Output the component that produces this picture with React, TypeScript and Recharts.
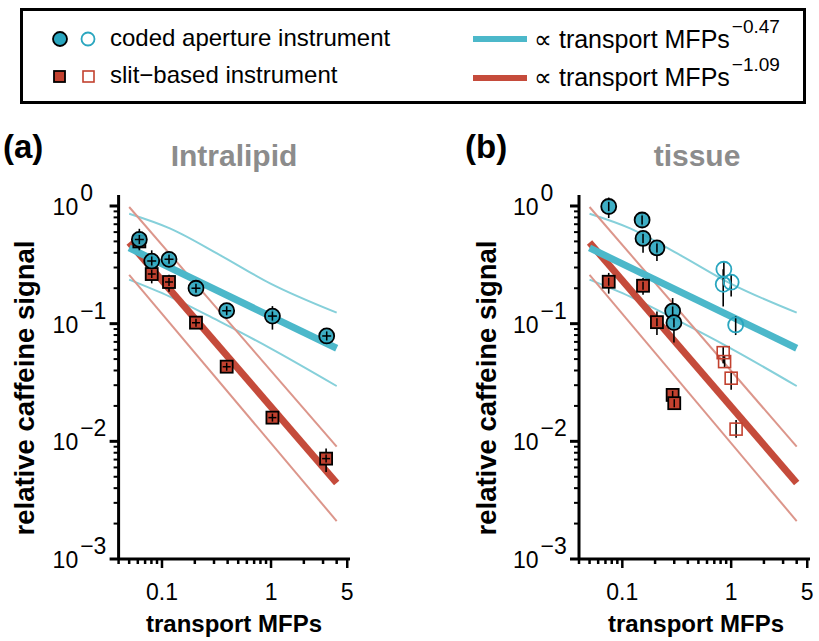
import React from 'react';
import { ComposedChart, Scatter, Line, XAxis, YAxis, ErrorBar } from 'recharts';

const FONT = '"Liberation Sans", Arial, Helvetica, sans-serif';
const CYAN = '#2aa6bf';
const CYAN_LINE = '#4cb8ca';
const CYAN_THIN = '#86d0da';
const RED = '#c2412f';
const RED_LINE = '#c54b3b';
const RED_THIN = '#dc968b';

// axes
const X_DOMAIN = [0.04, 5.3];
const Y_DOMAIN = [0.001, 1.24];
const xTicks = [0.04, 0.05, 0.06, 0.07, 0.08, 0.09, 0.1, 0.2, 0.3, 0.4, 0.5, 0.6, 0.7, 0.8, 0.9, 1, 2, 3, 4, 5];
const xTickLabels = ['0.1', '1', '5'];
const yTicks = [
  0.001, 0.002, 0.003, 0.004, 0.005, 0.006, 0.007, 0.008, 0.009,
  0.01, 0.02, 0.03, 0.04, 0.05, 0.06, 0.07, 0.08, 0.09,
  0.1, 0.2, 0.3, 0.4, 0.5, 0.6, 0.7, 0.8, 0.9, 1,
];
const yMajor = [0.001, 0.01, 0.1, 1];

// fits (same in both panels)
const fitX = [0.05, 4.0];
const codedFitY = [0.44, 0.0618];
const slitFitY = [0.49, 0.00443];
const bandX = [0.05, 0.118, 0.34, 0.98, 4.0];
const codedUpperY = [0.86, 0.646, 0.383, 0.22, 0.124];
const codedLowerY = [0.237, 0.17, 0.104, 0.062, 0.0295];
const slitBandX = [0.05, 4.0];
const slitUpperY = [0.98, 0.009];
const slitLowerY = [0.26, 0.0021];

// (a) Intralipid
const aCodedX = [0.062, 0.0805, 0.116, 0.205, 0.392, 1.03, 3.24];
const aCodedY = [0.52, 0.34, 0.352, 0.2, 0.129, 0.116, 0.0786];
const aCodedLo = [0.42, 0.27, 0.32, 0.185, 0.12, 0.089, 0.072];
const aCodedHi = [0.64, 0.42, 0.39, 0.215, 0.14, 0.141, 0.086];
const aSlitX = [0.062, 0.0805, 0.116, 0.205, 0.392, 1.03, 3.2];
const aSlitY = [0.5, 0.264, 0.226, 0.102, 0.0431, 0.0159, 0.00713];
const aSlitLo = [0.43, 0.22, 0.187, 0.094, 0.04, 0.0148, 0.0055];
const aSlitHi = [0.6, 0.3, 0.26, 0.11, 0.047, 0.0172, 0.0087];

// (b) tissue
const bCodedX = [0.075, 0.152, 0.155, 0.208, 0.29, 0.298];
const bCodedY = [0.99, 0.76, 0.53, 0.44, 0.128, 0.102];
const bCodedLo = [0.79, 0.67, 0.4, 0.34, 0.107, 0.069];
const bCodedHi = [1.18, 0.87, 0.62, 0.51, 0.165, 0.115];
const bCodedOpenX = [0.857, 0.845, 1.0, 1.1];
const bCodedOpenY = [0.29, 0.216, 0.225, 0.0975];
const bCodedOpenLo = [0.206, 0.14, 0.17, 0.08];
const bCodedOpenHi = [0.337, 0.29, 0.26, 0.116];
const bSlitX = [0.075, 0.155, 0.208, 0.29, 0.3];
const bSlitY = [0.227, 0.21, 0.103, 0.0248, 0.0211];
const bSlitLo = [0.18, 0.176, 0.08, 0.023, 0.0195];
const bSlitHi = [0.27, 0.244, 0.127, 0.027, 0.0228];
const bSlitOpenX = [0.845, 0.87, 1.0, 1.11];
const bSlitOpenY = [0.0567, 0.0476, 0.0344, 0.0127];
const bSlitOpenLo = [0.046, 0.042, 0.0275, 0.0107];
const bSlitOpenHi = [0.064, 0.053, 0.039, 0.0152];

const xErrFrac = 0.07;

function pts(xs: number[], ys: number[], lo?: number[], hi?: number[], xe = 0) {
  return xs.map((x, i) => ({
    x,
    y: ys[i],
    ey: lo && hi ? [ys[i] - lo[i], hi[i] - ys[i]] : 0,
    ex: [x * xe, x * xe],
  }));
}

function XTick(props: any) {
  const { x, y, payload } = props;
  const v = payload.value;
  const lbl = xTickLabels.find((t) => Number(t) === v);
  const major = v === 0.1 || v === 1;
  return (
    <g>
      <line x1={x} x2={x} y1={y} y2={y + (major || lbl ? 9 : 5)} stroke="#000" strokeWidth={2.5} />
      {lbl && (
        <text x={x} y={y + 41} textAnchor="middle" fontSize={23} fontFamily={FONT} fill="#000">
          {lbl}
        </text>
      )}
    </g>
  );
}

function YTick(props: any) {
  const { x, y, payload } = props;
  const v = payload.value;
  const major = yMajor.includes(v);
  const exp = Math.round(Math.log10(v));
  return (
    <g>
      <line x1={x} x2={x - (major ? 9 : 5)} y1={y} y2={y} stroke="#000" strokeWidth={major ? 3 : 2} />
      {major && (
        <text x={x - 66} y={y + 9} fontSize={23} fontFamily={FONT} fill="#000">
          10
          <tspan dx={2} dy={-14}>{exp === 0 ? '0' : `\u2212${-exp}`}</tspan>
        </text>
      )}
    </g>
  );
}

// the small cross drawn inside filled markers, where the error bars run through them
const cross = (cx: number, cy: number, h: number, w: number) => (
  <g stroke="#000" strokeWidth={1.5}>
    <line x1={cx} x2={cx} y1={cy - h} y2={cy + h} />
    {w > 0 && <line x1={cx - w} x2={cx + w} y1={cy} y2={cy} />}
  </g>
);

const makeFilledCircle = (w: number) => (p: any) => (
  <g>
    <circle cx={p.cx} cy={p.cy} r={7.5} fill={CYAN} fillOpacity={0.9} stroke="#000" strokeWidth={1.8} />
    {cross(p.cx, p.cy, 4.5, w)}
  </g>
);
const openCircle = (p: any) => (
  <circle cx={p.cx} cy={p.cy} r={7.5} fill="none" stroke={CYAN} strokeWidth={1.8} />
);
const makeFilledSquare = (w: number) => (p: any) => (
  <g>
    <rect x={p.cx - 6} y={p.cy - 6} width={12} height={12} fill={RED} stroke="#000" strokeWidth={1.8} />
    {cross(p.cx, p.cy, 4, w)}
  </g>
);
const openSquare = (p: any) => (
  <rect x={p.cx - 6} y={p.cy - 6} width={12} height={12} fill="none" stroke={RED} strokeWidth={1.6} />
);

type Group = { data: any[]; shape: (p: any) => React.ReactElement };

function Panel({ width, left, right, groups }: { width: number; left: number; right: number; groups: Group[] }) {
  return (
    <ComposedChart width={width} height={641} margin={{ top: 195, right, bottom: 52, left }}>
      <XAxis
        type="number"
        dataKey="x"
        scale="log"
        domain={X_DOMAIN}
        allowDataOverflow
        ticks={xTicks}
        interval={0}
        tick={<XTick />}
        tickSize={0}
        tickMargin={0}
        tickLine={false}
        axisLine={{ stroke: '#000', strokeWidth: 3 }}
        height={30}
      />
      <YAxis
        type="number"
        dataKey="y"
        scale="log"
        domain={Y_DOMAIN}
        allowDataOverflow
        ticks={yTicks}
        interval={0}
        tick={<YTick />}
        tickSize={0}
        tickMargin={0}
        tickLine={false}
        axisLine={{ stroke: '#000', strokeWidth: 3 }}
        width={60}
      />
      <Line type="monotone" data={pts(bandX, codedUpperY)} dataKey="y" stroke={CYAN_THIN} strokeWidth={2} dot={false} isAnimationActive={false} />
      <Line type="monotone" data={pts(bandX, codedLowerY)} dataKey="y" stroke={CYAN_THIN} strokeWidth={2} dot={false} isAnimationActive={false} />
      <Line data={pts(slitBandX, slitUpperY)} dataKey="y" stroke={RED_THIN} strokeWidth={2} dot={false} isAnimationActive={false} />
      <Line data={pts(slitBandX, slitLowerY)} dataKey="y" stroke={RED_THIN} strokeWidth={2} dot={false} isAnimationActive={false} />
      <Line data={pts(fitX, slitFitY)} dataKey="y" stroke={RED_LINE} strokeWidth={7} dot={false} isAnimationActive={false} />
      <Line data={pts(fitX, codedFitY)} dataKey="y" stroke={CYAN_LINE} strokeWidth={7} dot={false} isAnimationActive={false} />
      {groups.map((g, i) => (
        <Scatter key={`m${i}`} data={g.data} dataKey="y" shape={g.shape} isAnimationActive={false}>
          <ErrorBar dataKey="ey" direction="y" width={0} stroke="#000" strokeWidth={1.6} />
          <ErrorBar dataKey="ex" direction="x" width={0} stroke="#000" strokeWidth={1.6} />
        </Scatter>
      ))}
    </ComposedChart>
  );
}

const T: React.CSSProperties = { fontFamily: FONT };

export default function App() {
  const aGroups: Group[] = [
    { data: pts(aSlitX, aSlitY, aSlitLo, aSlitHi, xErrFrac), shape: makeFilledSquare(4) },
    { data: pts(aCodedX, aCodedY, aCodedLo, aCodedHi, xErrFrac), shape: makeFilledCircle(4.5) },
  ];
  const bGroups: Group[] = [
    { data: pts(bSlitX, bSlitY, bSlitLo, bSlitHi), shape: makeFilledSquare(0) },
    { data: pts(bSlitOpenX, bSlitOpenY, bSlitOpenLo, bSlitOpenHi), shape: openSquare },
    { data: pts(bCodedX, bCodedY, bCodedLo, bCodedHi), shape: makeFilledCircle(0) },
    { data: pts(bCodedOpenX, bCodedOpenY, bCodedOpenLo, bCodedOpenHi), shape: openCircle },
  ];
  return (
    <div style={{ position: 'absolute', left: 0, top: 0, width: 819, height: 641, background: '#fff', overflow: 'hidden' }}>
      <div style={{ position: 'absolute', left: 0, top: 0 }}>
        <Panel width={410} left={58.6} right={60} groups={aGroups} />
      </div>
      <div style={{ position: 'absolute', left: 410, top: 0 }}>
        <Panel width={409} left={109} right={9} groups={bGroups} />
      </div>
      <div
        style={{ position: 'absolute', left: 20, top: 8, width: 786, height: 96, border: '3px solid #000', boxSizing: 'border-box' }}
      />
      <svg width={819} height={641} style={{ position: 'absolute', left: 0, top: 0, pointerEvents: 'none' }}>
        {/* legend */}
        <circle cx={60} cy={39} r={7} fill={CYAN} stroke="#000" strokeWidth={1.8} />
        <circle cx={88} cy={39} r={6.5} fill="none" stroke={CYAN} strokeWidth={1.8} />
        <text x={110} y={46} fontSize={24} style={T}>coded aperture instrument</text>
        <rect x={54} y={71} width={11} height={11} fill={RED} stroke="#000" strokeWidth={1.8} />
        <rect x={83} y={71} width={11} height={11} fill="none" stroke={RED} strokeWidth={1.6} />
        <text x={110} y={83} fontSize={24} style={T}>slit{'\u2212'}based instrument</text>
        <line x1={473} x2={527} y1={39} y2={39} stroke={CYAN_LINE} strokeWidth={6} />
        <text x={534} y={48} fontSize={25} style={T}>
          {'\u221d'} transport MFPs
          <tspan dx={2} dy={-15} fontSize={19}>{'\u2212'}0.47</tspan>
        </text>
        <line x1={473} x2={527} y1={78} y2={78} stroke={RED_LINE} strokeWidth={6} />
        <text x={534} y={86} fontSize={25} style={T}>
          {'\u221d'} transport MFPs
          <tspan dx={2} dy={-15} fontSize={19}>{'\u2212'}1.09</tspan>
        </text>
        {/* panel titles */}
        <text x={3} y={158} fontSize={33} fontWeight="bold" style={T}>(a)</text>
        <text x={234} y={166} fontSize={30} fontWeight="bold" fill="#8c8c8c" textAnchor="middle" style={T}>Intralipid</text>
        <text x={465} y={158} fontSize={33} fontWeight="bold" style={T}>(b)</text>
        <text x={697} y={166} fontSize={30} fontWeight="bold" fill="#8c8c8c" textAnchor="middle" style={T}>tissue</text>
        {/* axis titles */}
        <text x={234} y={632} fontSize={24} fontWeight="bold" textAnchor="middle" style={T}>transport MFPs</text>
        <text x={696} y={632} fontSize={24} fontWeight="bold" textAnchor="middle" style={T}>transport MFPs</text>
        <text x={34} y={388} fontSize={27.5} fontWeight="bold" textAnchor="middle" transform="rotate(-90 34 388)" style={T}>
          relative caffeine signal
        </text>
        <text x={496} y={388} fontSize={27.5} fontWeight="bold" textAnchor="middle" transform="rotate(-90 496 388)" style={T}>
          relative caffeine signal
        </text>
      </svg>
    </div>
  );
}
